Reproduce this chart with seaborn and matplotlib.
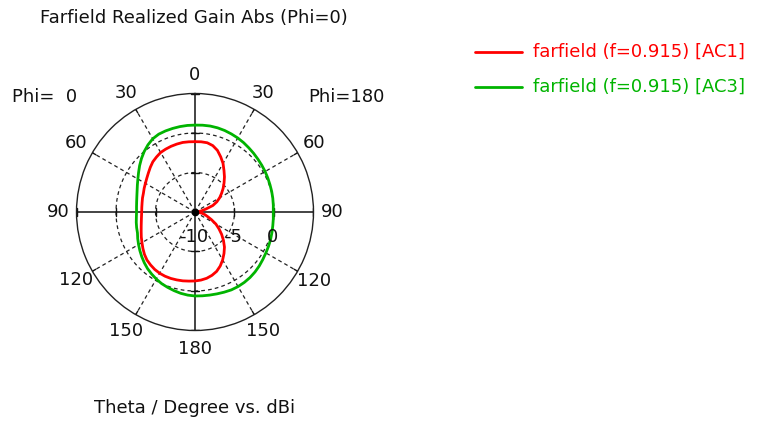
import numpy as np
import pandas as pd
import matplotlib
matplotlib.use("Agg")
import matplotlib.pyplot as plt
import matplotlib.transforms as mtransforms
from matplotlib.lines import Line2D
import seaborn as sns

# Theta samples (degrees) for both half-cuts
theta_deg = list(range(0, 181, 5))

# Realized gain (dBi), AC1: Phi=0 half and Phi=180 half
ac1_phi0 = [-1.10, -1.08, -1.06, -1.10, -1.15, -1.22, -1.30, -1.50, -1.70, -2.00,
            -2.30, -2.55, -2.75, -2.90, -3.05, -3.12, -3.20, -3.24, -3.25,
            -3.20, -3.10, -2.95, -2.75, -2.50, -2.25, -1.95, -1.65, -1.40,
            -1.25, -1.12, -1.05, -1.03, -1.05, -1.10, -1.15, -1.22, -1.27]
ac1_phi180 = [-1.10, -1.08, -1.10, -1.30, -1.70, -2.30, -2.90, -3.60, -4.20, -4.80,
              -5.35, -5.90, -6.40, -6.95, -7.60, -8.60, -9.20, -9.70, -10.0,
              -9.60, -9.10, -8.70, -8.30, -7.70, -6.95, -6.30, -5.60, -4.90,
              -4.20, -3.60, -3.00, -2.45, -2.00, -1.70, -1.48, -1.35, -1.27]

# Realized gain (dBi), AC3
ac3_phi0 = [1.00, 1.00, 0.98, 0.95, 0.92, 0.87, 0.70, 0.38, 0.00, -0.42,
            -0.85, -1.28, -1.65, -1.95, -2.20, -2.38, -2.50, -2.57, -2.60,
            -2.55, -2.45, -2.35, -2.25, -2.00, -1.75, -1.48, -1.20, -0.92,
            -0.65, -0.42, -0.20, 0.00, 0.15, 0.30, 0.45, 0.56, 0.63]
ac3_phi180 = [1.00, 1.03, 1.05, 1.03, 0.98, 0.90, 0.82, 0.72, 0.60, 0.50,
              0.40, 0.32, 0.25, 0.17, 0.10, 0.05, 0.00, -0.05, -0.09,
              -0.05, 0.00, 0.08, 0.18, 0.27, 0.36, 0.48, 0.62, 0.74,
              0.83, 0.88, 0.90, 0.88, 0.80, 0.73, 0.68, 0.65, 0.63]

series_labels = ["farfield (f=0.915) [AC1]", "farfield (f=0.915) [AC3]"]
series_colors = ["#ff0000", "#00b400"]

angle_ticks_deg = [0, 30, 60, 90, 120, 150, 180, 210, 240, 270, 300, 330]
angle_tick_labels = ["0", "30", "60", "90", "120", "150", "180",
                     "150", "120", "90", "60", "30"]
radial_ticks = [-10, -5, 0]
radial_tick_labels = ["-10", "-5", "0"]
r_min, r_max = -10, 5

title_text = "Farfield Realized Gain Abs (Phi=0)"
xlabel_text = "Theta / Degree vs. dBi"


def full_cut(phi0, phi180):
    # Phi=0 runs counter-clockwise from the top, Phi=180 mirrors on the right
    ang = [t for t in theta_deg] + [360 - t for t in theta_deg[::-1]]
    gain = list(phi0) + list(phi180[::-1])
    return np.deg2rad(ang), gain


frames = []
for lab, p0, p180 in [(series_labels[0], ac1_phi0, ac1_phi180),
                      (series_labels[1], ac3_phi0, ac3_phi180)]:
    a, g = full_cut(p0, p180)
    frames.append(pd.DataFrame({"angle": a, "gain": g, "series": lab}))
df = pd.concat(frames, ignore_index=True)

sns.set_style("white")
plt.rcParams["font.family"] = ["DejaVu Sans"]
FS = 13
TXT = "#111111"

W, H = 758, 424
fig = plt.figure(figsize=(W / 100, H / 100), dpi=100)
cx, cy, R = 195, 212, 118.5
ax = fig.add_axes([(cx - R) / W, 1 - (cy + R) / H, 2 * R / W, 2 * R / H],
                  projection="polar")
ax.set_theta_zero_location("N")
ax.set_theta_direction(1)
ax.set_rlim(r_min, r_max)
ax.set_xticks([])
ax.set_yticks([])
ax.grid(False)
ax.spines["polar"].set_linewidth(1.0)
ax.spines["polar"].set_color("#222222")
ax.set_facecolor("white")

full = np.linspace(0, 2 * np.pi, 721)
dash = (0, (3.0, 2.5))
# Dashed circles
for r in radial_ticks[1:]:
    ax.plot(full, np.full_like(full, r), color="#222222", lw=0.9, ls=dash, zorder=1)
# Dashed spokes
for d in angle_ticks_deg:
    if d % 90 == 0:
        continue
    ax.plot([np.deg2rad(d)] * 2, [r_min, r_max], color="#222222", lw=0.9, ls=dash, zorder=1)
# Solid main axes
for d in (0, 90, 180, 270):
    ax.plot([np.deg2rad(d)] * 2, [r_min, r_max], color="#111111", lw=1.1, zorder=2)

# Small tick marks across the main axes and on the outer circle
px_per_db = R / (r_max - r_min)
for d in (0, 90, 180, 270):
    for r in radial_ticks[1:] + [r_max]:
        half = 4.0 / px_per_db / (r - r_min)
        ax.plot([np.deg2rad(d) - half, np.deg2rad(d) + half], [r, r],
                color="#111111", lw=1.0, zorder=2)
for d in angle_ticks_deg:
    if d % 90 == 0:
        continue
    ax.plot([np.deg2rad(d)] * 2, [r_max - 0.5, r_max], color="#111111", lw=1.0, zorder=2)

sns.lineplot(data=df, x="angle", y="gain", hue="series",
             estimator=None, sort=False, palette=series_colors,
             linewidth=2.0, legend=False, ax=ax, zorder=3)
for ln in ax.lines[-2:]:
    ln.set_solid_joinstyle("round")
ax.plot([0], [r_min], "o", color="black", ms=4.5, zorder=4)

ax.set_xlabel("")
ax.set_ylabel("")

# Angle labels
lab_r = r_min + 137 / px_per_db
for d, lab in zip(angle_ticks_deg, angle_tick_labels):
    ax.text(np.deg2rad(d), lab_r, lab, ha="center", va="center",
            fontsize=FS, color=TXT, clip_on=False)

# Radial labels below the horizontal axis (right side)
off = mtransforms.offset_copy(ax.transData, fig=fig, x=-1, y=-25, units="dots")
for r, lab in zip(radial_ticks, radial_tick_labels):
    ax.text(np.deg2rad(270), r, lab, transform=off, ha="center", va="center",
            fontsize=FS, color=TXT, clip_on=False)

fig.text(45 / W, 1 - 97 / H, "Phi=  0", ha="center", va="center", fontsize=FS, color=TXT)
fig.text(346 / W, 1 - 97 / H, "Phi=180", ha="center", va="center", fontsize=FS, color=TXT)
fig.text(194 / W, 1 - 18 / H, title_text, ha="center", va="center", fontsize=FS, color=TXT)
fig.text(195 / W, 1 - 408 / H, xlabel_text, ha="center", va="center", fontsize=FS, color=TXT)

# Legend
for i, (lab, col) in enumerate(zip(series_labels, series_colors)):
    y = 1 - (52 + 35 * i) / H
    fig.add_artist(Line2D([475 / W, 522 / W], [y, y], color=col, lw=2.0))
    fig.text(533 / W, y, lab, ha="left", va="center", fontsize=FS, color=col)

fig.savefig("out.png", dpi=100, facecolor="white")
